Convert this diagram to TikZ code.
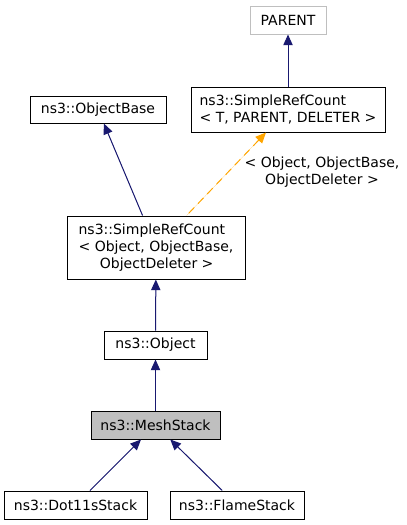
\documentclass[tikz,border=0pt]{standalone}
\usepackage{fontspec}
\setmainfont{DejaVu Sans}
\usetikzlibrary{arrows.meta}
\definecolor{navyedge}{RGB}{25,25,112}
\definecolor{lightframe}{RGB}{191,191,191}
\definecolor{tmplorange}{RGB}{255,165,0}

\begin{document}
\begin{tikzpicture}[x=0.75pt, y=-0.75pt,
    every node/.style={font=\fontsize{10.5}{13}\selectfont, inner sep=0pt},
    cls/.style={draw, line width=0.75pt, rectangle, align=left},
    inh/.style={{Triangle[length=8pt, width=7pt]}-, draw=navyedge, fill=navyedge, line width=0.75pt},
    tmpl/.style={{Triangle[length=8pt, width=7pt]}-, draw=tmplorange, fill=tmplorange, dash pattern=on 6pt off 4pt, line width=0.75pt}]
      \useasboundingbox (0,0) rectangle (407,525);

      \node[cls, draw=lightframe, minimum width=57pt, minimum height=21pt] (parent) at (288,20)  {PARENT};
      \node[cls, minimum width=145.5pt, minimum height=33.75pt] (srct) at (288,109.5) {ns3::SimpleRefCount\\< T, PARENT, DELETER >};
      \node[cls, minimum width=102pt, minimum height=20.25pt] (objbase) at (98,109.5) {ns3::ObjectBase};
      \node[cls, minimum width=133.5pt, minimum height=47.25pt] (srco) at (156,247.5) {ns3::SimpleRefCount\\< Object, ObjectBase,\\\hspace{16pt}ObjectDeleter >};
      \node[cls, minimum width=77.25pt, minimum height=21pt] (obj) at (155.5,345) {ns3::Object};
      \node[cls, fill=lightframe, minimum width=96.75pt, minimum height=21pt] (mesh) at (155.5,425) {ns3::MeshStack};
      \node[cls, minimum width=107.25pt, minimum height=21pt] (dot) at (75.5,505) {ns3::Dot11sStack};
      \node[cls, minimum width=100.5pt, minimum height=21pt] (flame) at (237,505) {ns3::FlameStack};
      \node[align=center] (lbl) at (322,172) {< Object, ObjectBase,\\ObjectDeleter >};

      \draw[inh] (parent) -- (srct);
      \draw[inh] (objbase) -- (srco);
      \draw[tmpl] (srct) -- (srco);
      \draw[inh] (srco) -- (obj);
      \draw[inh] (obj) -- (mesh);
      \draw[inh] (mesh) -- (dot);
      \draw[inh] (mesh) -- (flame);
    \end{tikzpicture}
\end{document}
